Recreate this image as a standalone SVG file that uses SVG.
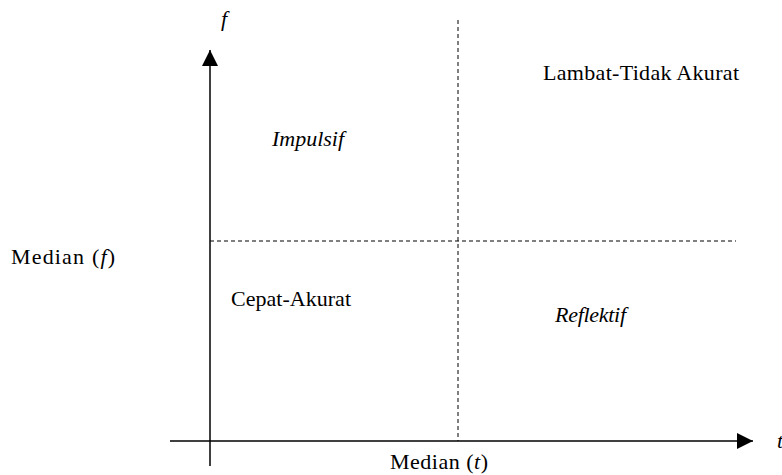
<svg xmlns="http://www.w3.org/2000/svg" width="782" height="475" viewBox="0 0 782 475">
<style>
text{font-family:"Liberation Serif","Times New Roman",serif;font-size:22px;fill:#000}
.i{font-style:italic}
.ax{stroke:#000;stroke-width:1.5;fill:none}
.d{stroke:#000;stroke-width:1;stroke-dasharray:4,3;fill:none}
</style>
<defs>
<marker id="ah" markerWidth="16" markerHeight="16" refX="16" refY="8" orient="auto" markerUnits="userSpaceOnUse">
<path d="M0,0 L16,8 L0,16 Z" fill="#000"/>
</marker>
</defs>
<rect width="782" height="475" fill="#fff"/>
<g id="connectors">
<line class="ax" x1="210" y1="466" x2="210" y2="50" marker-end="url(#ah)"/>
<line class="ax" x1="170" y1="441" x2="753" y2="441" marker-end="url(#ah)"/>
<line class="d" x1="458" y1="20" x2="458" y2="441"/>
<line class="d" x1="210" y1="241" x2="736" y2="241"/>
</g>
<g id="axis-f"><text class="i" x="221" y="26">f</text></g>
<g id="axis-t"><text class="i" x="777" y="448">t</text></g>
<g id="median-f"><text x="11" y="264" textLength="104">Median (<tspan class="i">f</tspan>)</text></g>
<g id="median-t"><text x="390" y="469" textLength="98">Median (<tspan class="i">t</tspan>)</text></g>
<g id="lambat"><text x="543" y="80" textLength="196">Lambat-Tidak Akurat</text></g>
<g id="impulsif"><text class="i" x="272" y="146" textLength="72">Impulsif</text></g>
<g id="cepat"><text x="231" y="306" textLength="120">Cepat-Akurat</text></g>
<g id="reflektif"><text class="i" x="555" y="322" textLength="71">Reflektif</text></g>
</svg>
